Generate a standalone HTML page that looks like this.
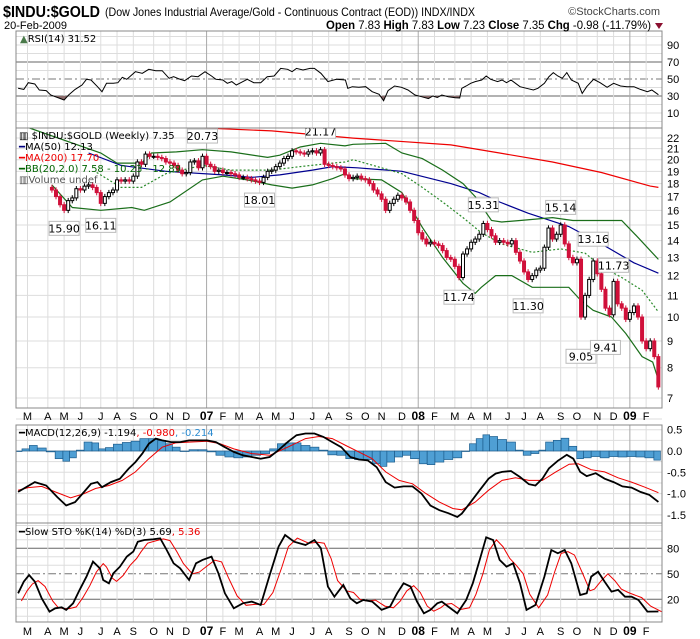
<!DOCTYPE html>
<html><head><meta charset="utf-8">
<style>
body{margin:0;background:#fff;}
svg{display:block;font-family:"Liberation Sans",sans-serif;}
.lg{font-family:"DejaVu Sans","Liberation Sans",sans-serif;font-size:10px;}
</style></head>
<body>
<svg id="chart" width="700" height="639" viewBox="0 0 700 639" xmlns="http://www.w3.org/2000/svg">
  <rect x="0" y="0" width="700" height="639" fill="#fff"/>
  <defs>
    <clipPath id="cRsi"><rect x="16" y="31" width="646" height="97"/></clipPath>
    <clipPath id="cRsiLow"><rect x="16" y="96" width="646" height="32"/></clipPath>
    <clipPath id="cPrice"><rect x="16" y="128" width="646" height="280"/></clipPath>
    <clipPath id="cMacd"><rect x="16" y="425" width="646" height="98"/></clipPath>
    <clipPath id="cSto"><rect x="16" y="525" width="646" height="97"/></clipPath>
  </defs>
  <g id="grid"></g>
  <g id="marks"></g>
  <g id="frames">
    <rect x="16" y="31" width="646" height="97" fill="none" stroke="#888"/>
    <rect x="16" y="128" width="646" height="280" fill="none" stroke="#888"/>
    <rect x="16" y="425" width="646" height="98" fill="none" stroke="#888"/>
    <rect x="16" y="523" width="646" height="99" fill="none" stroke="#888"/>
  </g>
  <g id="labels">
    <text x="3" y="17" font-size="16" font-weight="bold" textLength="97" lengthAdjust="spacingAndGlyphs">$INDU:$GOLD</text>
    <text x="105" y="16" font-size="12" textLength="370" lengthAdjust="spacingAndGlyphs">(Dow Jones Industrial Average/Gold - Continuous Contract (EOD)) INDX/INDX</text>
    <text x="660" y="15" text-anchor="end" font-size="11" fill="#444">©StockCharts.com</text>
    <text x="4" y="29" font-size="11">20-Feb-2009</text>
    <text x="651" y="29" text-anchor="end" font-size="12" textLength="325" lengthAdjust="spacingAndGlyphs"><tspan font-weight="bold">Open</tspan> 7.83 <tspan font-weight="bold">High</tspan> 7.83 <tspan font-weight="bold">Low</tspan> 7.23 <tspan font-weight="bold">Close</tspan> 7.35 <tspan font-weight="bold">Chg</tspan> -0.98 (-11.79%)</text>
    <path d="M655 23 L663 23 L659 29 Z" fill="#8b1030"/>
    <g class="lg">
      <text x="20" y="42"><tspan fill="#4a7a4a">▲</tspan>RSI(14) 31.52</text>
      <text x="19" y="139">▥ $INDU:$GOLD (Weekly) 7.35</text>
      <text x="19" y="150"><tspan fill="#000080">━</tspan>MA(50) 12.13</text>
      <text x="19" y="161" fill="#e00">━MA(200) 17.70</text>
      <text x="19" y="172" fill="#006400">━BB(20,2.0) 7.58 - 10.23 - 12.89</text>
      <text x="19" y="183" fill="#555">▥Volume undef</text>
      <text x="19" y="436">━MACD(12,26,9) -1.194<tspan fill="#e00">, -0.980</tspan><tspan fill="#2a8ad0">, -0.214</tspan></text>
      <text x="19" y="535">━Slow STO %K(14) %D(3) 5.69<tspan fill="#e00">, 5.36</tspan></text>
    </g>
  </g>
</svg>
<script>
// ---------- DATA ----------
const closeStartWeek = 6;
const closes = [17.5,17.0,16.4,16.0,16.7,16.9,17.6,17.5,17.8,17.9,17.7,17.3,16.5,17.0,
17.3,17.5,18.3,18.2,18.3,18.2,18.6,19.8,19.6,20.5,20.3,20.3,20.2,20.1,19.8,19.7,19.5,19.1,18.8,18.9,
19.8,19.9,19.3,20.3,19.6,19.4,19.0,19.1,18.9,18.9,18.8,18.7,18.5,18.5,18.4,18.3,18.2,18.1,18.5,19.0,
19.1,19.4,19.7,20.1,20.3,20.8,20.7,20.6,20.5,20.7,20.8,20.6,20.9,19.6,19.5,19.4,19.3,19.2,18.7,18.4,
18.5,18.6,18.4,18.3,18.0,17.5,17.2,16.8,16.0,16.5,16.8,17.1,16.9,16.6,16.0,15.3,14.5,14.1,13.8,13.9,
13.8,13.7,13.4,13.0,12.9,12.5,11.9,13.2,13.5,13.9,14.1,14.4,15.1,14.7,14.3,13.9,14.0,13.9,13.8,14.0,
13.3,12.8,12.2,11.8,12.0,12.3,12.4,13.6,14.8,14.1,14.4,15.0,13.8,13.0,12.7,12.9,10.0,11.0,11.8,12.8,
12.1,11.3,10.4,10.1,11.7,10.6,10.4,9.9,10.2,10.5,10.0,9.0,8.7,9.0,8.4,7.35];
const firstOpen = 17.7;

const ma50Weeks = [15,23,34,48,55,62,70,75,81,92,104,111,116,123,133,141,149,155];
const ma50Vals  = [20.6,19.5,19.0,18.7,18.5,18.7,19.1,19.4,19.3,19.0,18.0,17.3,16.6,15.8,14.9,13.8,12.7,12.13];
const ma200Weeks = [43.5,60,80,104,116,129,141,153,155];
const ma200Vals  = [23.0,22.7,22.0,21.35,20.6,19.8,18.9,17.8,17.7];
const bbUpWeeks = [0.5,18,22,28,30.5,36.6,43,50,59,62,67,72,78,80,88,92,97,102,107,110,114,116.5,121,129,134,141,146,150,155];
const bbUpVals  = [23.0,20.6,19.7,19.7,20.6,20.7,20.9,20.7,20.2,20.4,21.15,21.5,21.25,21.4,21.5,20.6,20.1,19.1,18.0,17.0,15.3,15.2,15.3,15.5,15.3,15.3,15.3,14.2,12.89];
const bbLoWeeks = [6,11,18,25.6,28.7,35,43,48,54,60,65,70,75,78,80,87,92,97,102,107,110,111.5,115,119,124,129,133,136,139,143.5,147,151,153.6,155];
const bbLoVals  = [17.9,16.2,16.0,16.2,16.0,16.6,18.3,18.6,18.3,17.9,17.65,17.9,18.4,18.8,18.4,18.3,17.3,14.85,13.0,11.6,11.1,11.4,12.0,12.0,11.4,11.4,11.4,10.75,10.3,10.0,9.3,8.4,8.2,7.58];
const bbMidWeeks = [17,23,28,34,43,50,60,67,75,78,80,87,92,97,102,107,111.5,116.5,124,131,137,141,146,151,155];
const bbMidVals  = [18.9,17.7,17.7,18.8,19.5,19.1,19.1,19.4,19.7,19.8,20.0,19.3,18.8,17.7,16.6,15.5,14.5,13.8,13.3,13.5,13.25,12.5,11.9,11.25,10.23];

const priceTicks = [22,21,20,19,18,17,16,15,14,13,12,11,10,9,8,7];
const annoWeeks = [9,18,43,57,72,106,112,123,131,136,139,142,144];
const annoVals  = [15.90,16.11,20.73,18.01,21.17,11.74,15.31,11.30,15.14,9.05,13.16,9.41,11.73];
const annoAbove = [false,false,true,false,true,false,true,false,true,false,true,false,true];

const rsiWeeks = [-2.3,-0.9,0.2,1.8,2.9,4.6,5.7,7.3,9.0,10.1,11.7,13.4,14.5,15.6,17.2,18.3,19.4,21.1,22.2,23.3,24.4,26.5,28.2,29.8,31.5,33.1,34.8,35.9,37.5,38.6,40.3,41.9,43.6,45.2,46.3,48.0,49.1,50.2,51.3,52.4,54.0,55.6,57.3,58.9,60.6,62.2,63.9,65.0,66.1,67.7,69.4,70.5,72.1,73.8,75.9,78.1,78.7,79.8,81.4,83.1,84.7,86.4,87.5,88.6,90.2,91.9,93.5,95.2,96.8,98.5,99.6,100.7,101.8,103.4,105.1,106.2,106.7,107.8,108.9,110.0,111.6,112.7,113.8,115.5,116.6,117.7,118.8,119.9,121.0,122.6,124.3,125.4,127.0,128.1,129.2,130.3,131.4,132.5,133.6,135.3,136.3,137.4,139.1,140.7,142.4,144.0,145.7,147.3,149.0,150.6,152.3,153.4,155.0];
const rsiVals  = [39.0,37.8,45.7,44.1,37.1,36.3,31.2,28.4,25.3,31.2,37.8,42.9,49.6,48.8,41.0,35.1,44.9,44.9,45.7,52.0,49.6,58.6,56.7,61.4,59.8,59.8,50.8,52.7,49.6,48.0,53.5,52.7,58.6,53.5,49.6,48.8,44.9,46.9,42.9,45.7,49.6,45.7,45.7,52.7,53.5,62.5,61.4,58.6,62.5,60.6,62.5,62.5,56.7,46.9,49.6,48.8,39.0,41.0,40.2,41.0,35.1,32.0,24.5,36.3,41.8,40.2,37.1,31.2,29.2,26.9,30.0,28.4,31.2,29.2,28.0,27.6,39.0,41.8,44.9,46.9,48.8,53.5,49.6,46.9,48.8,45.7,48.8,44.9,41.0,39.0,37.1,39.0,44.9,52.7,57.5,53.5,50.8,57.5,48.8,44.9,33.1,41.0,49.6,45.7,40.2,44.9,41.8,41.0,41.0,37.8,35.1,37.1,31.52];
const rsiTicks = [90,70,50,30,10];

const macdWeeks = [-2.3,1.8,4.6,7.3,9.5,11.7,13.9,15.6,17.2,18.3,20.5,22.7,24.9,26.5,28.2,29.8,31.5,33.1,35.3,37.5,39.7,41.9,44.1,46.3,48.5,50.7,52.9,55.1,57.3,59.5,61.7,63.9,66.1,68.3,70.5,72.7,74.9,77.1,79.3,81.4,83.6,85.8,88.0,90.2,92.4,94.6,96.8,99.0,101.2,103.4,105.6,106.7,108.9,111.1,113.3,115.0,116.6,118.8,121.0,123.2,124.8,126.5,128.1,130.3,132.5,134.1,135.8,137.4,139.6,141.8,144.0,146.2,148.4,150.6,152.8,155.0];
const macdVals  = [-0.96,-0.73,-0.81,-1.08,-1.28,-1.20,-0.96,-0.77,-0.73,-0.85,-0.73,-0.65,-0.41,-0.26,-0.06,0.17,0.29,0.25,0.21,0.21,0.25,0.25,0.25,0.21,0.09,-0.02,-0.10,-0.14,-0.18,-0.14,0.02,0.21,0.37,0.41,0.41,0.33,0.21,0.09,-0.14,-0.20,-0.22,-0.38,-0.73,-0.86,-0.83,-0.83,-1.00,-1.28,-1.39,-1.46,-1.55,-1.47,-1.20,-0.92,-0.65,-0.53,-0.49,-0.47,-0.61,-0.78,-0.81,-0.65,-0.41,-0.23,-0.09,-0.18,-0.49,-0.59,-0.52,-0.65,-0.73,-0.83,-0.86,-0.96,-1.03,-1.194];
const sigWeeks = [-2.3,0.2,3.5,6.8,10.6,13.9,16.7,20.0,23.3,26.5,29.8,33.1,36.4,39.7,44.1,47.4,50.7,55.1,59.5,63.9,68.3,71.6,74.9,78.2,81.4,84.7,88.0,91.3,94.6,97.9,101.2,104.5,106.7,110.0,113.3,116.6,119.9,123.2,126.5,129.8,133.1,135.3,138.5,141.8,145.1,148.4,151.7,155.0];
const sigVals  = [-0.92,-0.86,-0.83,-0.96,-1.10,-1.00,-0.88,-0.81,-0.69,-0.49,-0.18,0.09,0.19,0.21,0.23,0.17,0.05,-0.06,-0.10,0.09,0.29,0.34,0.29,0.13,-0.02,-0.18,-0.49,-0.69,-0.77,-1.00,-1.20,-1.35,-1.38,-1.20,-0.92,-0.69,-0.63,-0.69,-0.69,-0.49,-0.31,-0.30,-0.44,-0.49,-0.63,-0.73,-0.85,-0.980];
const histWeeks = [-2.3,-0.4,1.3,3.5,5.7,7.9,9.5,11.2,12.8,15.0,16.7,18.3,20.0,22.2,24.4,26.5,28.7,30.9,33.1,34.8,36.4,38.6,40.8,43.0,45.2,47.4,49.6,51.8,54.0,56.2,58.4,60.6,62.2,64.4,66.1,68.3,70.5,72.7,74.9,77.1,79.3,81.4,83.6,85.8,87.5,89.1,91.3,93.0,95.2,97.4,99.0,101.2,103.4,105.6,107.8,109.4,111.1,112.7,114.4,116.6,118.8,121.0,122.6,124.8,126.5,128.1,130.3,131.9,134.1,135.8,137.4,139.6,141.8,144.0,146.2,148.4,150.6,152.8,155.0];
const histVals  = [0,0.05,0.13,0.07,-0.02,-0.18,-0.24,-0.16,0.02,0.21,0.19,0.05,0.08,0.16,0.20,0.23,0.29,0.29,0.25,0.17,0.09,0,0.03,0.03,-0.02,-0.10,-0.14,-0.16,-0.14,-0.10,-0.06,0.05,0.17,0.19,0.19,0.13,0.09,0.02,-0.09,-0.10,-0.18,-0.20,-0.20,-0.30,-0.36,-0.26,-0.14,-0.10,-0.18,-0.30,-0.32,-0.26,-0.20,-0.16,0,0.17,0.29,0.38,0.34,0.27,0.21,0.02,-0.10,-0.06,0.02,0.21,0.25,0.30,0.11,-0.18,-0.16,-0.13,-0.16,-0.13,-0.14,-0.13,-0.14,-0.16,-0.214];
const macdTicks = [0.5,0.0,-0.5,-1.0,-1.5];

const stoKWeeks = [-2.3,-0.9,0.4,1.8,3.5,5.4,6.8,8.4,9.5,11.2,12.8,14.5,16.1,17.8,18.6,20.0,21.1,22.7,24.4,26.0,27.1,28.7,30.9,32.6,34.2,35.9,37.5,39.7,41.4,43.0,45.2,46.9,48.5,50.7,52.9,55.1,57.3,59.5,61.7,63.3,65.5,68.3,70.5,72.1,73.8,75.4,77.6,79.3,80.9,82.5,84.7,87.0,89.1,90.8,92.4,94.1,95.7,97.4,99.0,100.7,101.8,103.4,105.6,107.8,109.4,111.1,112.7,114.4,116.0,117.7,119.3,121.0,122.6,124.8,127.0,128.7,130.3,132.0,133.6,135.8,137.4,138.5,140.2,141.8,143.5,145.1,146.8,148.4,150.1,152.3,155.0];
const stoKVals  = [27.1,40.8,48.6,40.8,21.2,5.5,9.4,10.6,7.5,15.3,31.0,46.7,64.3,56.5,42.7,38.8,50.6,58.4,70.2,76.1,87.8,89.8,90.6,91.8,78.0,62.4,56.5,42.7,62.4,66.3,70.2,50.6,27.1,9.4,15.3,17.3,13.3,48.6,82.0,95.7,87.8,83.9,89.8,80.0,34.9,23.1,36.9,21.2,15.3,19.2,17.3,7.5,11.4,27.1,38.8,34.9,17.3,3.5,7.5,15.3,17.3,11.4,3.5,19.2,38.8,66.3,92.9,89.8,66.3,58.4,62.4,38.8,7.5,13.3,46.7,78.0,74.1,78.0,62.4,25.1,27.1,46.7,52.5,40.8,29.0,31.0,23.1,23.1,19.2,5.5,5.69];
const stoDWeeks = stoKWeeks;
const stoDVals  = [18,30,38,42,35,18,10,9,9,11,22,36,52,62,58,45,41,48,60,68,76,86,89,91,89,76,62,50,52,58,66,64,46,24,13,14,14,28,58,82,92,86,87,86,68,42,30,28,20,18,19,12,10,18,30,36,28,12,6,10,14,15,8,10,26,50,78,90,82,68,60,50,26,10,25,52,74,76,72,48,30,32,42,50,42,32,28,25,22,12,5.36];
const stoTicks = [80,50,20];

const monthNames = ["M","A","M","J","J","A","S","O","N","D","07","F","M","A","M","J","J","A","S","O","N","D","08","F","M","A","M","J","J","A","S","O","N","D","09","F"];
const monthWeeks = [0,5,9,13,18,22,26,31,35,39,44,48,52,57,61,65,70,74,79,83,87,92,96,100,105,109,113,118,122,126,131,135,140,144,148,152];

// ---------- AXES ----------
const X0 = 27.5, DW = 4.07;
function xw(w){ return X0 + DW*w; }
function yp(v){ return 398 - 227*Math.log(v/7); }
function yr(v){ return 96 - (v-30)*0.85; }
function ym(v){ return 451 - v*42.6; }
function ys(v){ return 548.3 - (v-80)*0.85; }

const NS = "http://www.w3.org/2000/svg";
function mk(tag, attrs, parent){
  const e = document.createElementNS(NS, tag);
  for (const k in attrs) e.setAttribute(k, attrs[k]);
  parent.appendChild(e);
  return e;
}
const grid = document.getElementById('grid');
const marks = document.getElementById('marks');
const labels = document.getElementById('labels');

function pts(ws, vs, fy){ return ws.map((w,i)=>xw(w).toFixed(1)+","+fy(vs[i]).toFixed(1)).join(" "); }

function hline(y, stroke, dash, name){
  const l = mk('line', {x1:16, x2:662, y1:y, y2:y, stroke:stroke, 'stroke-width':1}, grid);
  if (dash) l.setAttribute('stroke-dasharray', dash);
  
  
}
for (let v=0; v<=100; v+=10){ if (v!==30 && v!==50 && v!==70) hline(yr(v), '#ddd', null, 'rsi-gridline'); }
hline(yr(70), '#666', null, 'rsi-overbought-line');
hline(yr(30), '#666', null, 'rsi-oversold-line');
hline(yr(50), '#777', '8,3,2,3', 'rsi-midline');
priceTicks.forEach(v=>{ hline(yp(v), '#ddd', null, 'price-gridline'); });
for (let v=-1.75; v<=0.75; v+=0.25){ hline(ym(v), '#ddd', null, 'macd-gridline'); }
for (let v=0; v<=100; v+=10){ if (v!==20 && v!==50 && v!==80) hline(ys(v), '#ddd', null, 'sto-gridline'); }
hline(ys(80), '#666', null, 'sto-overbought-line');
hline(ys(20), '#666', null, 'sto-oversold-line');
hline(ys(50), '#777', '8,3,2,3', 'sto-midline');

monthWeeks.forEach((w,i)=>{
  const x = xw(w);
  const isYear = /\d/.test(monthNames[i]);
  [[31,128],[128,408],[425,523],[523,622]].forEach(r=>{
    const l = mk('line', {x1:x, x2:x, y1:r[0], y2:r[1], stroke: isYear ? '#aaa' : '#ddd'}, grid);
    
    
  });
  [420, 635].forEach(y=>{
    const t = mk('text', {x:x, y:y, 'text-anchor':'middle', 'font-size':11}, labels);
    if (isYear){ t.setAttribute('font-weight','bold'); t.setAttribute('font-size', 12); }
    t.textContent = monthNames[i];
    
    
  });
});

function ylabel(y, txt, name){
  const t = mk('text', {x:667, y:y+4, 'font-size':11}, labels);
  t.textContent = txt;
  
  
}
rsiTicks.forEach(v=>ylabel(yr(v), String(v), 'rsi-tick-label'));
priceTicks.forEach(v=>ylabel(yp(v), String(v), 'price-tick-label'));
macdTicks.forEach(v=>ylabel(ym(v), v.toFixed(1), 'macd-tick-label'));
stoTicks.forEach(v=>ylabel(ys(v), String(v), 'sto-tick-label'));

// ---------- RSI ----------
const gR = mk('g', {'clip-path':'url(#cRsi)'}, marks);


const fillPts = xw(rsiWeeks[0]).toFixed(1)+","+yr(30)+" "+pts(rsiWeeks, rsiVals, yr)+" "+xw(rsiWeeks[rsiWeeks.length-1]).toFixed(1)+","+yr(30);
const rf = mk('polygon', {points: fillPts, fill:'#8a6a6a', 'clip-path':'url(#cRsiLow)'}, gR);


const rl = mk('polyline', {points: pts(rsiWeeks, rsiVals, yr), fill:'none', stroke:'#000', 'stroke-width':1}, gR);



// ---------- PRICE ----------
const gP = mk('g', {'clip-path':'url(#cPrice)'}, marks);


function pline(ws, vs, stroke, dash, name){
  const l = mk('polyline', {points: pts(ws, vs, yp), fill:'none', stroke:stroke, 'stroke-width':1.2}, gP);
  if (dash) l.setAttribute('stroke-dasharray', dash);
  
  
}
pline(ma200Weeks, ma200Vals, '#e00', null, 'ma200-line');
pline(ma50Weeks, ma50Vals, '#000090', null, 'ma50-line');
pline(bbUpWeeks, bbUpVals, '#1a6e1a', null, 'bb-upper-line');
pline(bbLoWeeks, bbLoVals, '#1a6e1a', null, 'bb-lower-line');
pline(bbMidWeeks, bbMidVals, '#2a8a2a', '2,2', 'bb-middle-line');

closes.forEach((c,i)=>{
  const o = i===0 ? firstOpen : closes[i-1];
  const x = xw(closeStartWeek + i);
  const hi = Math.max(o,c)*1.012, lo = Math.min(o,c)*0.988;
  const up = c >= o;
  const col = up ? '#000' : '#d0103a';
  const wk = mk('line', {x1:x, x2:x, y1:yp(hi), y2:yp(lo), stroke:col, 'stroke-width':1}, gP);
  
  
  const yt = yp(Math.max(o,c)), yb = yp(Math.min(o,c));
  const b = mk('rect', {x:x-1.5, y:yt, width:3, height:Math.max(1, yb-yt), fill: up ? '#fff' : col, stroke:col, 'stroke-width':1}, gP);
  
  
});

annoWeeks.forEach((w,i)=>{
  const v = annoVals[i];
  const x = xw(w);
  const y = annoAbove[i] ? yp(v*1.02) - 11 : yp(v*0.98) + 12;
  const r = mk('rect', {x:x-15, y:y-7, width:30, height:14, fill:'#fff', stroke:'#bbb'}, gP);
  
  
  const t = mk('text', {x:x, y:y+4, 'text-anchor':'middle', 'font-size':11, 'font-family':"'DejaVu Sans','Liberation Sans',sans-serif"}, gP);
  t.textContent = v.toFixed(2);
  
  
});

// ---------- MACD ----------
const gM = mk('g', {'clip-path':'url(#cMacd)'}, marks);


histWeeks.forEach((w,i)=>{
  const left = i===0 ? w-1 : (w + histWeeks[i-1])/2;
  const right = i===histWeeks.length-1 ? w+0.5 : (w + histWeeks[i+1])/2;
  const y0 = ym(0), y1 = ym(histVals[i]);
  const b = mk('rect', {x:xw(left), y:Math.min(y0,y1), width:Math.max(1, xw(right)-xw(left)), height:Math.max(0.5, Math.abs(y1-y0)), fill:'#4f9fd4', stroke:'#1c5c8c', 'stroke-width':0.7}, gM);
  
  
});
const ms = mk('polyline', {points: pts(sigWeeks, sigVals, ym), fill:'none', stroke:'#e00', 'stroke-width':1}, gM);


const ml = mk('polyline', {points: pts(macdWeeks, macdVals, ym), fill:'none', stroke:'#000', 'stroke-width':1.8}, gM);



// ---------- STO ----------
const gS = mk('g', {'clip-path':'url(#cSto)'}, marks);


const sd = mk('polyline', {points: pts(stoDWeeks.map(w=>w+0.8), stoDVals, ys), fill:'none', stroke:'#e00', 'stroke-width':1}, gS);


const sk = mk('polyline', {points: pts(stoKWeeks, stoKVals, ys), fill:'none', stroke:'#000', 'stroke-width':1.8}, gS);


</script>
</body></html>
